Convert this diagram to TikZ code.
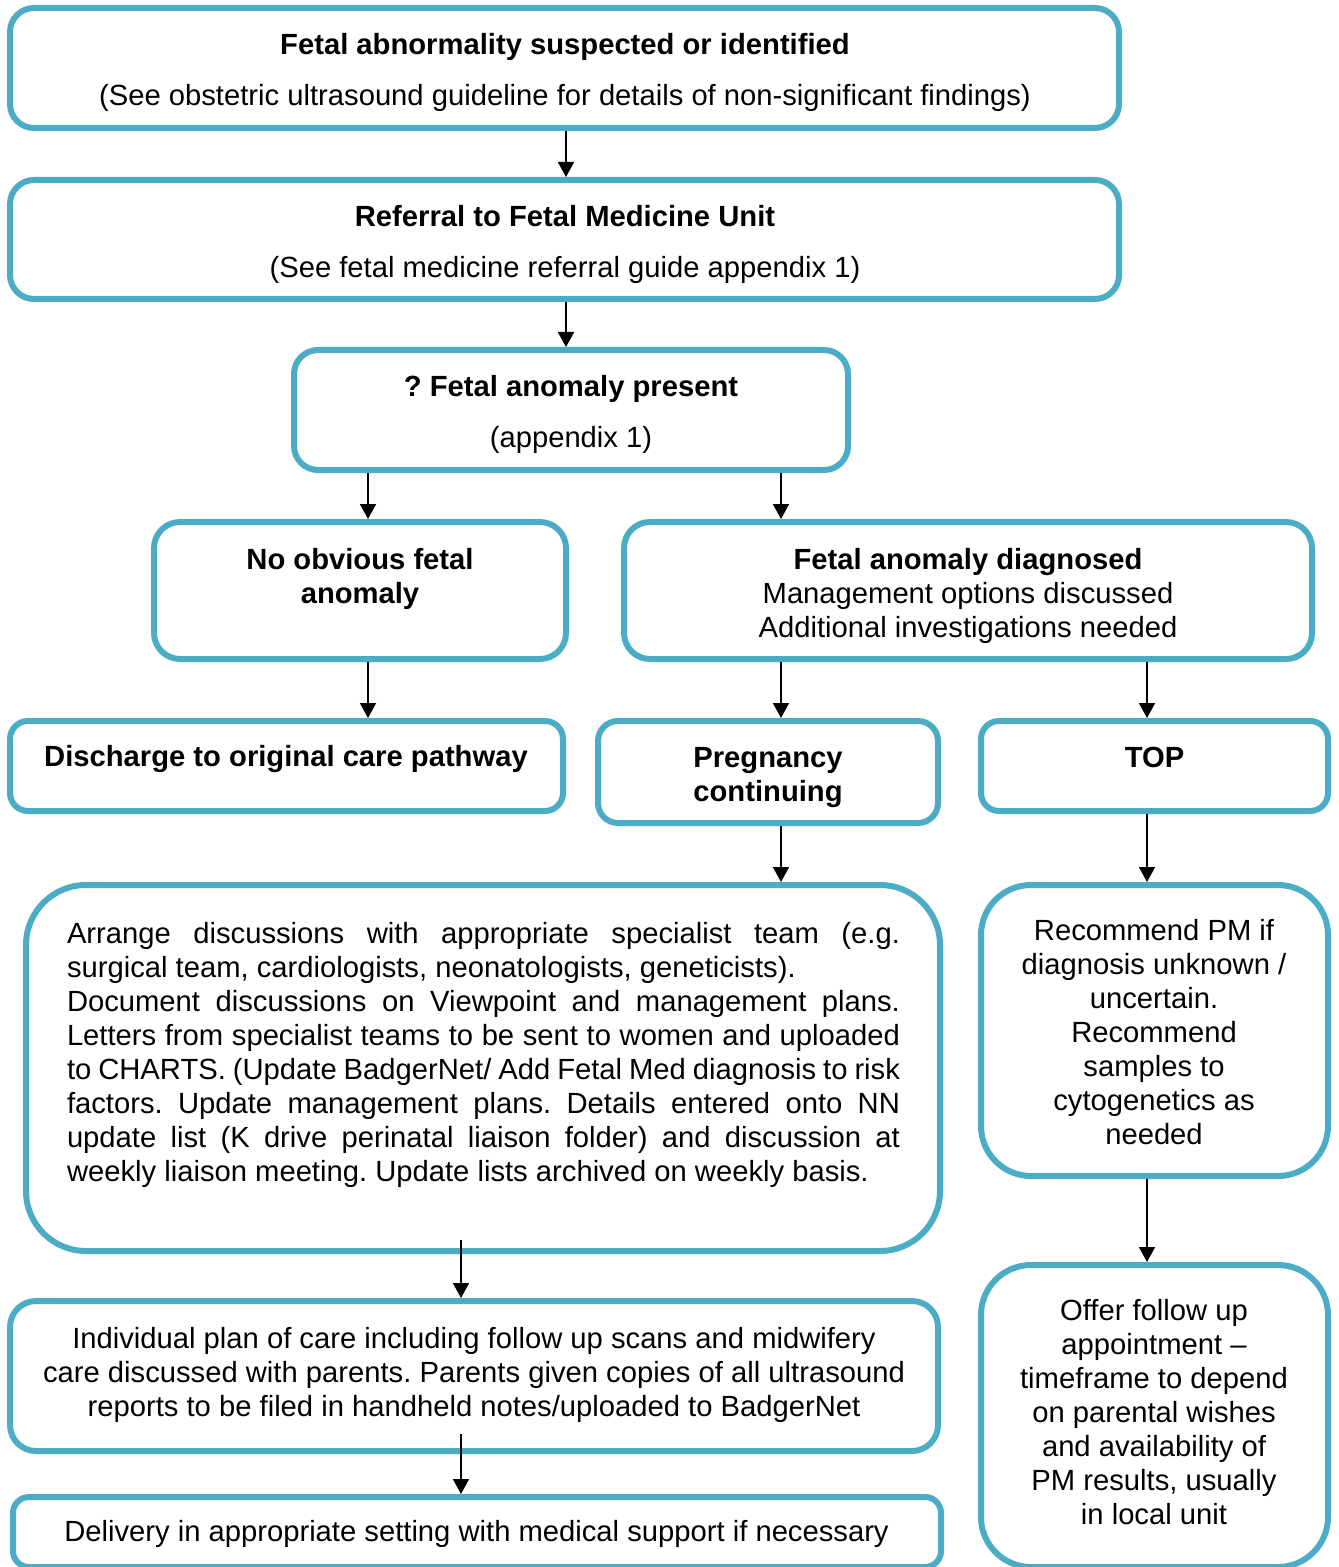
\documentclass[tikz,border=0pt]{standalone}
\usepackage{fontspec}
\setmainfont{Liberation Sans}
\usetikzlibrary{arrows.meta,fit}
\definecolor{boxc}{RGB}{75,172,198}
\frenchspacing
\begin{document}
\begin{tikzpicture}[x=0.5pt,y=-0.5pt,
  every node/.style={font=\fontsize{14.6pt}{17pt}\selectfont\frenchspacing},
  box/.style={draw=boxc, line width=3pt, inner sep=0pt},
  txt/.style={align=center, inner sep=0pt},
  arr/.style={-{Triangle[length=7.5pt,width=8pt]}, line width=0.9pt}]
\clip (0,0) rectangle (1338,1567);
% boxes
\node[box, rounded corners=12pt, fit={(10,8) (1119,128)}] (bA) {};
\node[box, rounded corners=12pt, fit={(10,180) (1119,299)}] (bB) {};
\node[box, rounded corners=12pt, fit={(294,350) (848,470)}] (bC) {};
\node[box, rounded corners=13pt, fit={(154,522) (566,659)}] (bD) {};
\node[box, rounded corners=13pt, fit={(624,522) (1312,659)}] (bE) {};
\node[box, rounded corners=9pt, fit={(10,721) (563,811)}] (bF) {};
\node[box, rounded corners=10pt, fit={(598,721) (938,823)}] (bG) {};
\node[box, rounded corners=9pt, fit={(981,721) (1328,811)}] (bH) {};
\node[box, rounded corners=30pt, fit={(26,885) (940,1251)}] (bI) {};
\node[box, rounded corners=25pt, fit={(981,885) (1328,1176)}] (bJ) {};
\node[box, rounded corners=13pt, fit={(10,1301) (938,1451)}] (bK) {};
\node[box, rounded corners=8pt, fit={(13,1497) (941,1567)}] (bL) {};
\node[box, rounded corners=25pt, fit={(981,1265) (1328,1567)}] (bM) {};
% texts
\node[txt] (tA) at (565,72) {\textbf{Fetal abnormality suspected or identified}\\[8.5pt](See obstetric ultrasound guideline for details of non-significant findings)};
\node[txt] (tB) at (565,244) {\textbf{Referral to Fetal Medicine Unit}\\[8.5pt](See fetal medicine referral guide appendix 1)};
\node[txt] (tC) at (571,414) {\textbf{? Fetal anomaly present}\\[8.5pt](appendix 1)};
\node[txt] (tD) at (360,579) {\textbf{No obvious fetal}\\\textbf{anomaly}};
\node[txt] (tE) at (968,595.5) {\textbf{Fetal anomaly diagnosed}\\Management options discussed\\Additional investigations needed};
\node[txt] (tF) at (286,759) {\textbf{Discharge to original care pathway}};
\node[txt] (tG) at (768,777.5) {\textbf{Pregnancy}\\\textbf{continuing}};
\node[txt] (tH) at (1154.5,757) {\textbf{TOP}};
\node[inner sep=0pt] (tI) at (483.5,1055) {\begin{minipage}{416.5pt}\frenchspacing\hyphenpenalty=10000\exhyphenpenalty=10000
Arrange discussions with appropriate specialist team (e.g.\linebreak surgical team, cardiologists, neonatologists, geneticists).\\
Document discussions on Viewpoint and management plans.\linebreak Letters from specialist teams to be sent to women and uploaded\linebreak to CHARTS. (Update BadgerNet/ Add Fetal Med diagnosis to risk\linebreak factors. Update management plans. Details entered onto NN\linebreak update list (K drive perinatal liaison folder) and discussion at\linebreak weekly liaison meeting. Update lists archived on weekly basis.
\end{minipage}};
\node[txt] (tJ) at (1154,1032) {Recommend PM if\\diagnosis unknown /\\uncertain.\\Recommend\\samples to\\cytogenetics as\\needed};
\node[txt] (tK) at (474,1375) {Individual plan of care including follow up scans and midwifery\\care discussed with parents. Parents given copies of all ultrasound\\reports to be filed in handheld notes/uploaded to BadgerNet};
\node[txt] (tL) at (476.5,1534) {Delivery in appropriate setting with medical support if necessary};
\node[txt] (tM) at (1154,1412) {Offer follow up\\appointment --\\timeframe to depend\\on parental wishes\\and availability of\\PM results, usually\\in local unit};
% column coordinates
\coordinate (c1) at (566,0);
\coordinate (c2) at (368,0);
\coordinate (c3) at (781,0);
\coordinate (c4) at (1147,0);
\coordinate (c5) at (461,0);
% arrows
\draw[arr] (bA.south -| c1) -- (bB.north -| c1);
\draw[arr] (bB.south -| c1) -- (bC.north -| c1);
\draw[arr] (bC.south -| c2) -- (bD.north -| c2);
\draw[arr] (bC.south -| c3) -- (bE.north -| c3);
\draw[arr] (bD.south -| c2) -- (bF.north -| c2);
\draw[arr] (bE.south -| c3) -- (bG.north -| c3);
\draw[arr] (bE.south -| c4) -- (bH.north -| c4);
\draw[arr] (bG.south -| c3) -- (bI.north -| c3);
\draw[arr] (bH.south -| c4) -- (bJ.north -| c4);
\draw[arr] (bJ.south -| c4) -- (bM.north -| c4);
\draw[arr, shorten <=-7pt] (bI.south -| c5) -- (bK.north -| c5);
\draw[arr, shorten <=-10pt] (bK.south -| c5) -- (bL.north -| c5);
\end{tikzpicture}
\end{document}
